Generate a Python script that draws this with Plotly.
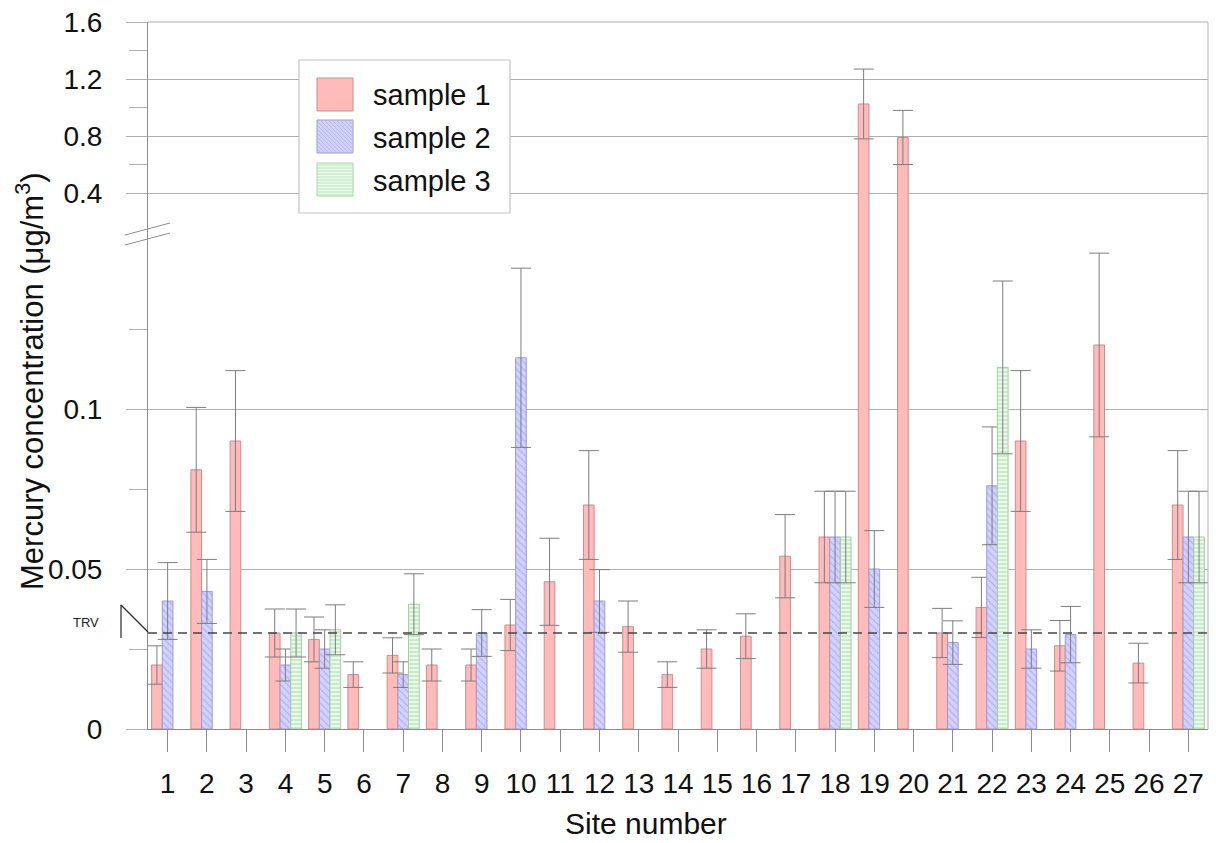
import plotly.graph_objects as go

# ---------------- data ----------------
sites = list(range(1, 28))
site_labels = [str(s) for s in sites]

sample1 = [0.020, 0.081, 0.090, 0.030, 0.028, 0.017, 0.023, 0.020, 0.020, 0.0325,
           0.046, 0.070, 0.032, 0.017, 0.025, 0.029, 0.054, 0.060, 1.025, 0.790,
           0.030, 0.038, 0.090, 0.026, 0.120, 0.0206, 0.070]
err1 = [0.006, 0.0195, 0.022, 0.0075, 0.007, 0.004, 0.0055, 0.005, 0.005, 0.008,
        0.0136, 0.017, 0.008, 0.004, 0.006, 0.007, 0.013, 0.0143, 0.245, 0.190,
        0.0077, 0.0094, 0.022, 0.0079, 0.0287, 0.0062, 0.017]

sample2 = [0.040, 0.043, None, 0.020, 0.025, None, 0.017, None, 0.030, 0.116,
           None, 0.040, None, None, None, None, None, 0.060, 0.050, None,
           0.027, 0.076, 0.025, 0.0295, None, None, 0.060]
err2 = [0.012, 0.010, None, 0.005, 0.006, None, 0.004, None, 0.0073, 0.028,
        None, 0.0098, None, None, None, None, None, 0.0143, 0.012, None,
        0.0068, 0.0184, 0.006, 0.0088, None, None, 0.0143]

sample3 = [None, None, None, 0.030, 0.031, None, 0.039, None, None, None,
           None, None, None, None, None, None, None, 0.060, None, None,
           None, 0.113, None, None, None, None, 0.060]
err3 = [None, None, None, 0.0075, 0.0078, None, 0.0095, None, None, None,
        None, None, None, None, None, None, None, 0.0143, None, None,
        None, 0.027, None, None, None, None, 0.0143]

series_names = ["sample 1", "sample 2", "sample 3"]
TRV = 0.03

lower_ticks = [0, 0.05, 0.1]
lower_ticktext = ["0", "0.05", "0.1"]
lower_minor = [0.025, 0.075, 0.125]
upper_ticks = [0.4, 0.8, 1.2, 1.6]
upper_ticktext = ["0.4", "0.8", "1.2", "1.6"]
upper_minor = [0.6, 1.0, 1.4]

# ---------------- geometry ----------------
W, H = 1216, 843
L, R, T, B = 148, 1208, 22, 729
BREAK_PX = 234
LOW_SCALE = 3200.0   # px per unit, lower segment
UP_SCALE = 142.5     # px per unit, upper segment
LOW_TOP = (B - BREAK_PX) / LOW_SCALE
UP_BOTTOM = 1.6 - (BREAK_PX - T) / UP_SCALE
SPLIT = (B - BREAK_PX) / (B - T)


def px(x):
    return (x - L) / (R - L)


def py(y):
    return (B - y) / (B - T)


FONT = "Liberation Sans, Arial, Helvetica, sans-serif"
GRID = "rgb(175,175,175)"
AXIS = "rgb(140,140,140)"
ERR = "rgb(125,125,125)"

styles = [
    dict(color="rgb(255,186,186)", line=dict(color="rgb(205,140,140)", width=1)),
    dict(color="rgb(208,208,255)", line=dict(color="rgb(155,155,215)", width=1),
         pattern=dict(shape="\\", fgcolor="rgb(170,170,235)", bgcolor="rgb(210,210,255)",
                      size=5, solidity=0.2, fillmode="replace")),
    dict(color="rgb(230,251,230)", line=dict(color="rgb(165,205,165)", width=1),
         pattern=dict(shape="-", fgcolor="rgb(175,218,175)", bgcolor="rgb(232,251,232)",
                      size=4, solidity=0.25, fillmode="replace")),
]

BW = 0.272
offsets = [-1.5 * BW, -0.5 * BW, 0.5 * BW]
values = [sample1, sample2, sample3]
errors = [err1, err2, err3]

fig = go.Figure()
for i in range(3):
    vals, errs = values[i], errors[i]
    # lower segment
    fig.add_trace(go.Bar(
        x=sites, y=vals, name=series_names[i], width=BW, offset=offsets[i],
        marker=styles[i], showlegend=False, xaxis="x", yaxis="y",
        error_y=dict(type="data", array=errs, visible=True, color=ERR, thickness=1, width=10),
    ))
    # upper segment (only values above the axis break)
    up_vals = [v if (v is not None and v > LOW_TOP) else None for v in vals]
    up_errs = [e if (v is not None and v > LOW_TOP) else None for v, e in zip(vals, errs)]
    fig.add_trace(go.Bar(
        x=sites, y=up_vals, name=series_names[i], width=BW, offset=offsets[i],
        marker=styles[i], showlegend=False, xaxis="x2", yaxis="y2",
        error_y=dict(type="data", array=up_errs, visible=True, color=ERR, thickness=1, width=10),
    ))

tickfont = dict(family=FONT, size=28, color="#111")

fig.update_layout(
    width=W, height=H, autosize=False,
    margin=dict(l=L, r=W - R, t=T, b=H - B, pad=0),
    paper_bgcolor="white", plot_bgcolor="white",
    barmode="overlay", showlegend=False,
    xaxis=dict(domain=[0, 1], anchor="y", range=[0.5, 27.5], tickmode="array",
               tickvals=sites, ticktext=site_labels, ticks="outside", ticklen=22,
               tickcolor=AXIS, tickwidth=1, showline=True, linecolor=AXIS, linewidth=1,
               showgrid=False, zeroline=False, tickfont=tickfont, ticklabelstandoff=7),
    xaxis2=dict(domain=[0, 1], anchor="y2", matches="x", visible=False, range=[0.5, 27.5]),
    yaxis=dict(domain=[0, SPLIT], anchor="x", range=[0, LOW_TOP], tickmode="array",
               tickvals=lower_ticks, ticktext=lower_ticktext, ticks="outside", ticklen=21,
               tickcolor=GRID, tickwidth=1, showline=True, linecolor=AXIS, linewidth=1,
               showgrid=True, gridcolor=GRID, gridwidth=1, zeroline=False,
               tickfont=tickfont, ticklabelstandoff=18,
               minor=dict(tickmode="array", tickvals=lower_minor, ticks="outside", ticklen=18,
                          tickcolor=GRID, tickwidth=1, showgrid=False)),
    yaxis2=dict(domain=[SPLIT, 1], anchor="x2", range=[UP_BOTTOM, 1.6005], tickmode="array",
                tickvals=upper_ticks, ticktext=upper_ticktext, ticks="outside", ticklen=21,
                tickcolor=GRID, tickwidth=1, showline=True, linecolor=AXIS, linewidth=1,
                showgrid=True, gridcolor=GRID, gridwidth=1, zeroline=False,
                tickfont=tickfont, ticklabelstandoff=18,
                minor=dict(tickmode="array", tickvals=upper_minor, ticks="outside", ticklen=18,
                           tickcolor=GRID, tickwidth=1, showgrid=False)),
)

shapes = []
# top and right frame
shapes.append(dict(type="line", xref="paper", yref="paper", x0=0, x1=1, y0=1, y1=1,
                   line=dict(color=GRID, width=1), layer="above"))
shapes.append(dict(type="line", xref="paper", yref="paper", x0=1, x1=1, y0=0, y1=1,
                   line=dict(color=GRID, width=1), layer="above"))
# TRV dashed line
shapes.append(dict(type="line", xref="paper", yref="y", x0=0, x1=1, y0=TRV, y1=TRV,
                   line=dict(color="rgb(70,70,70)", width=1.6, dash="9px,6px"), layer="above"))
# TRV bracket
shapes.append(dict(type="line", xref="paper", yref="paper", x0=px(121), x1=px(121),
                   y0=py(605), y1=py(638), line=dict(color="rgb(40,40,40)", width=1.2)))
shapes.append(dict(type="line", xref="paper", yref="paper", x0=px(121), x1=px(148),
                   y0=py(605), y1=py(632), line=dict(color="rgb(40,40,40)", width=1.2)))
# axis break marks
for dy in (0, 10):
    shapes.append(dict(type="line", xref="paper", yref="paper", x0=px(125), x1=px(170),
                       y0=py(235 + dy), y1=py(223 + dy), line=dict(color=AXIS, width=1)))

# manual legend
shapes.append(dict(type="rect", xref="paper", yref="paper", x0=px(299), x1=px(510),
                   y0=py(213), y1=py(60), fillcolor="white",
                   line=dict(color="rgb(195,195,195)", width=1.2), layer="above"))
sw_x0, sw_x1 = 317, 353
rows_top = [78, 120, 163]
sw_h = 33
fills = ["rgb(255,186,186)", "rgb(210,210,255)", "rgb(232,251,232)"]
borders = ["rgb(205,140,140)", "rgb(155,155,215)", "rgb(170,210,170)"]
for i, top in enumerate(rows_top):
    shapes.append(dict(type="rect", xref="paper", yref="paper", x0=px(sw_x0), x1=px(sw_x1),
                       y0=py(top + sw_h), y1=py(top), fillcolor=fills[i],
                       line=dict(color=borders[i], width=1), layer="above"))

# hatch for blue swatch (diagonal "\")
top = rows_top[1]
segs = []
w, h = sw_x1 - sw_x0, sw_h
c = -h
while c < w:
    y_a = 0.0
    x_a = c
    if x_a < 0:
        y_a = -x_a
        x_a = 0.0
    y_b = float(h)
    x_b = c + h
    if x_b > w:
        y_b = h - (x_b - w)
        x_b = float(w)
    if y_a < y_b:
        segs.append("M %.5f %.5f L %.5f %.5f" % (px(sw_x0 + x_a), py(top + y_a),
                                               px(sw_x0 + x_b), py(top + y_b)))
    c += 4
shapes.append(dict(type="path", xref="paper", yref="paper", path=" ".join(segs),
                   line=dict(color="rgb(175,175,235)", width=0.8), layer="above"))
# hatch for green swatch (horizontal)
top = rows_top[2]
segs = []
yy = 2
while yy < sw_h:
    segs.append("M %.5f %.5f L %.5f %.5f" % (px(sw_x0), py(top + yy), px(sw_x1), py(top + yy)))
    yy += 3
shapes.append(dict(type="path", xref="paper", yref="paper", path=" ".join(segs),
                   line=dict(color="rgb(185,222,185)", width=0.8), layer="above"))

fig.update_layout(shapes=shapes)

annotations = []
for i, top in enumerate(rows_top):
    annotations.append(dict(xref="paper", yref="paper", x=px(371), y=py(top + sw_h / 2 + 1),
                            xanchor="left", yanchor="middle", showarrow=False,
                            text=series_names[i], font=dict(family=FONT, size=29, color="#111")))
annotations.append(dict(xref="paper", yref="paper", x=px(86), y=py(622), xanchor="center",
                        yanchor="middle", showarrow=False, text="TRV",
                        font=dict(family=FONT, size=13, color="#222")))
annotations.append(dict(xref="paper", yref="paper", x=px(646), y=py(823), xanchor="center",
                        yanchor="middle", showarrow=False, text="Site number",
                        font=dict(family=FONT, size=30, color="#111")))
annotations.append(dict(xref="paper", yref="paper", x=px(30), y=py(381), xanchor="center",
                        yanchor="middle", showarrow=False, textangle=-90,
                        text="Mercury concentration (μg/m<sup>3</sup>)",
                        font=dict(family=FONT, size=31, color="#111")))
fig.update_layout(annotations=annotations)

fig.write_html("out.html", config={"displayModeBar": False},
               post_script="document.body.style.margin='0px';document.body.style.overflow='hidden';")
